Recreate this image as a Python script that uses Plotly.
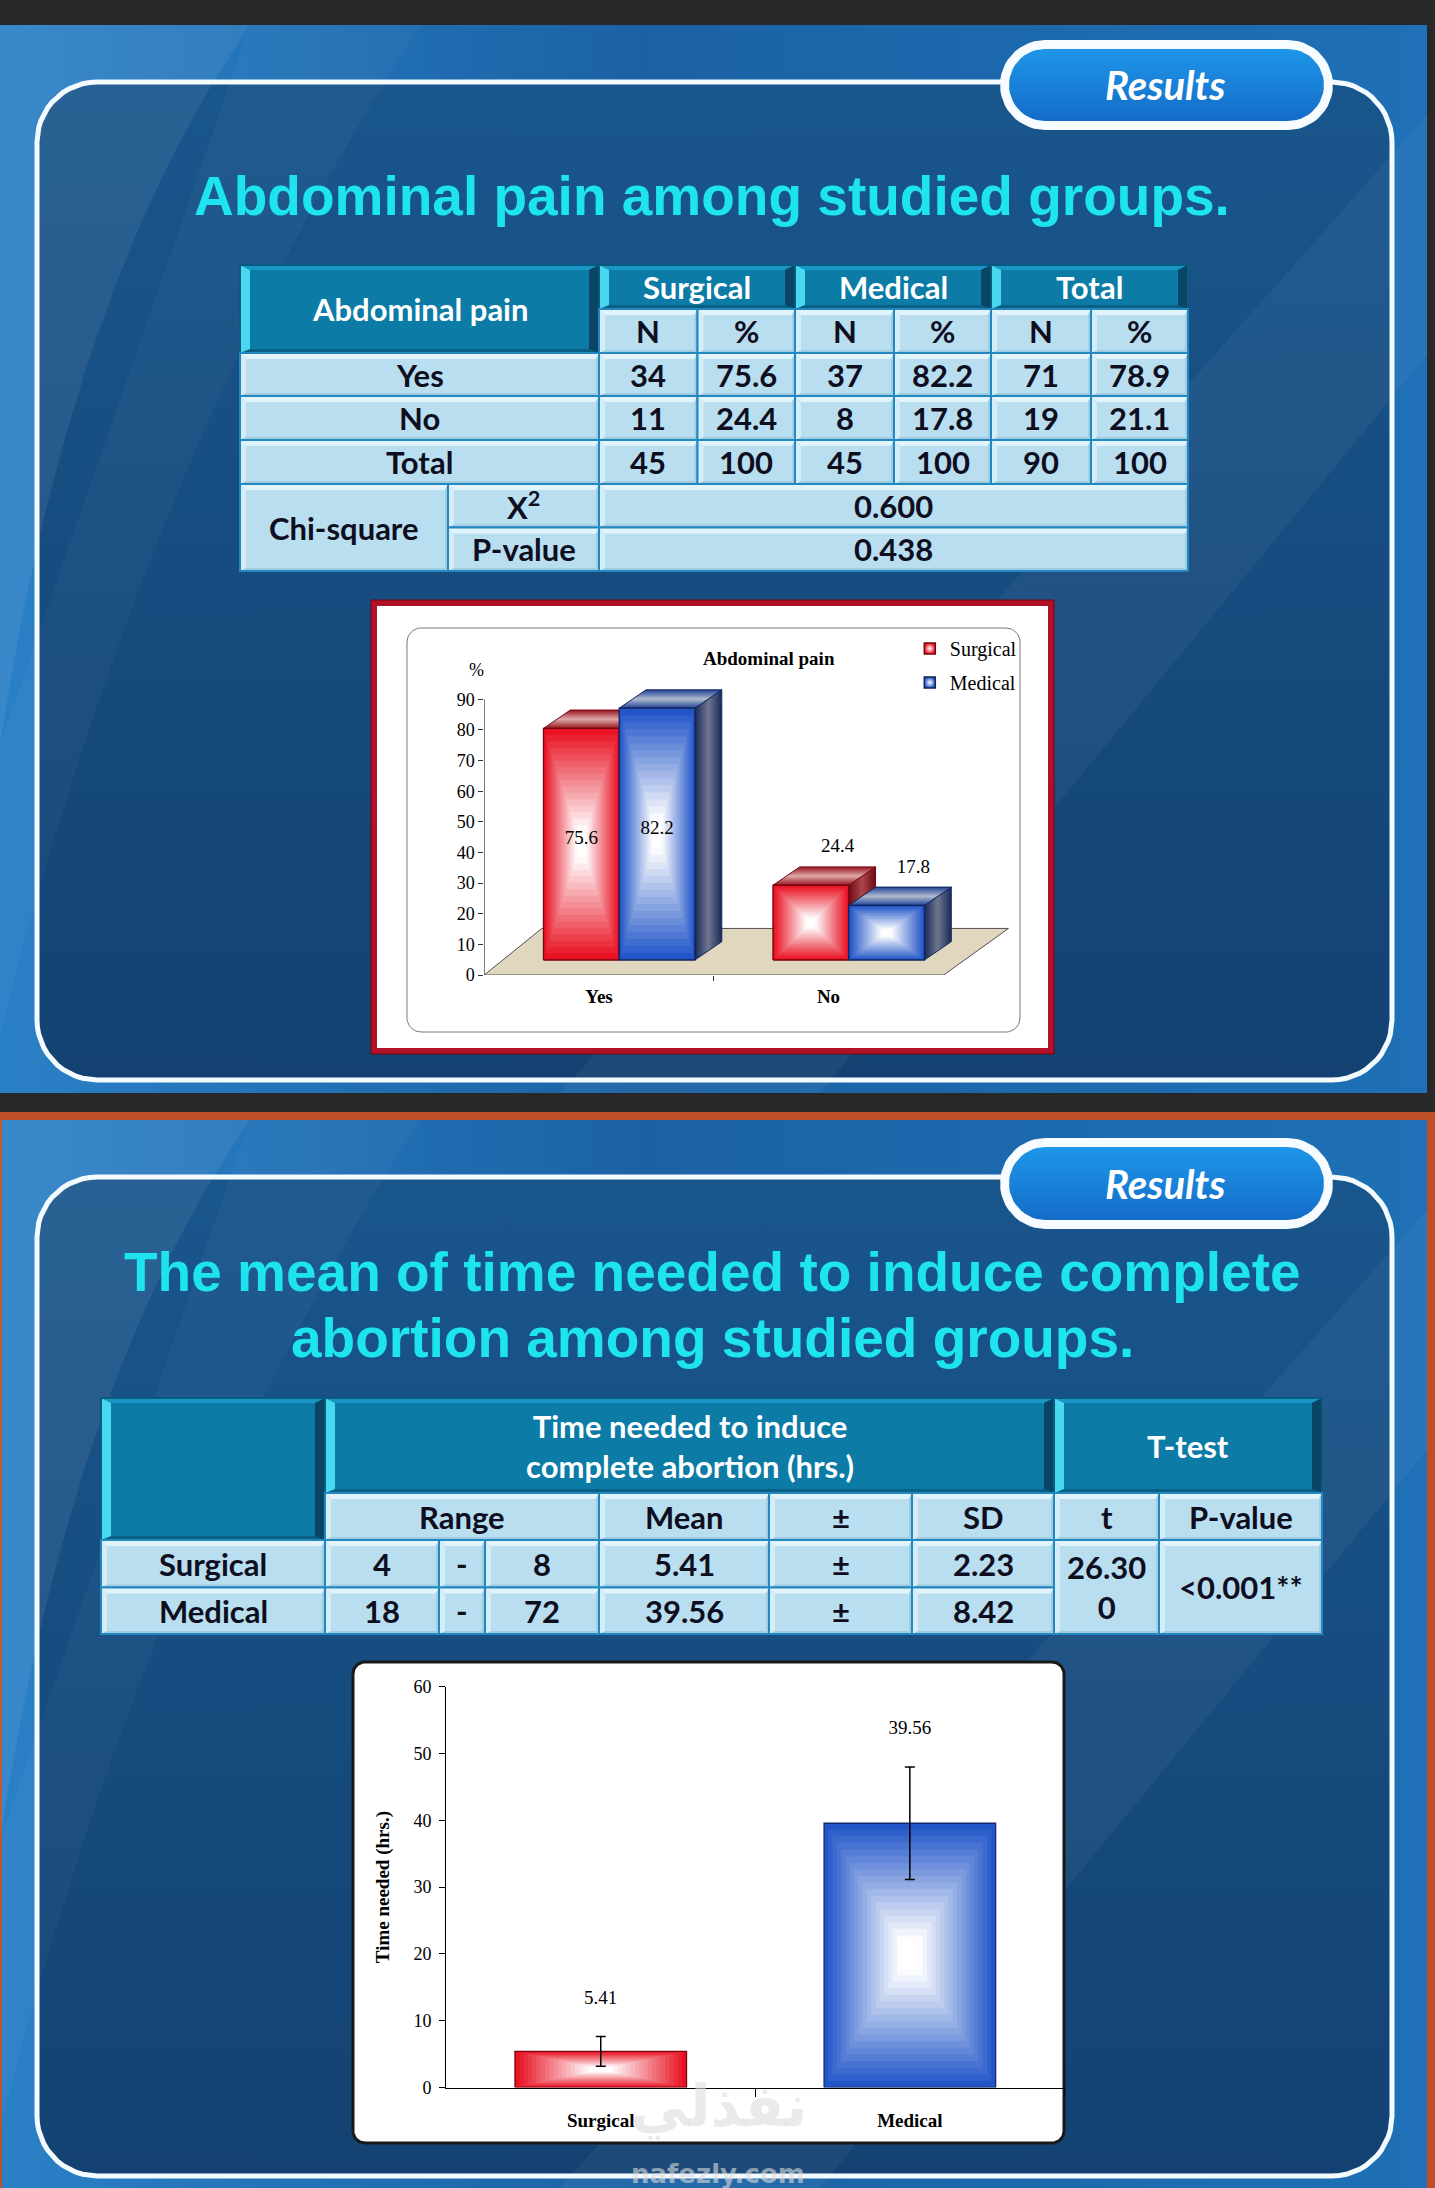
import numpy as np
import plotly.graph_objects as go

W, H = 1435, 2188

# ---- table 1: abdominal pain ----
GROUPS = ["Surgical", "Medical", "Total"]
PAIN_ROWS = ["Yes", "No", "Total"]
SURGICAL_N = [34, 11, 45]
SURGICAL_PCT = [75.6, 24.4, 100]
MEDICAL_N = [37, 8, 45]
MEDICAL_PCT = [82.2, 17.8, 100]
TOTAL_N = [71, 19, 90]
TOTAL_PCT = [78.9, 21.1, 100]
CHI_X2 = "0.600"
CHI_P = "0.438"

# ---- chart 1 ----
PAIN_CATS = ["Yes", "No"]
PAIN_TICKS = [0, 10, 20, 30, 40, 50, 60, 70, 80, 90]

# ---- table 2 / chart 2: time to complete abortion ----
TIME_GROUPS = ["Surgical", "Medical"]
RANGE_MIN = [4, 18]
RANGE_MAX = [8, 72]
MEAN_HRS = [5.41, 39.56]
SD_HRS = [2.23, 8.42]
T_VALUE = "26.300"
T_P = "<0.001**"
TIME_TICKS = [0, 10, 20, 30, 40, 50, 60]

TITLE_1 = ["Abdominal pain among studied groups."]
TITLE_2 = ["The mean of time needed to induce complete", "abortion among studied groups."]

SERIF = "Liberation Serif"
SANS = "Liberation Sans"
TFONT = "Lato"
RED = (232, 18, 34)
BLUE = (34, 86, 200)

fig = go.Figure()


def mix(c, t, alpha=None):
    r, g, b = (round(v + (255 - v) * t) for v in c)
    if alpha is None:
        return f"rgb({r},{g},{b})"
    return f"rgba({r},{g},{b},{alpha})"


def poly(xs, ys, xa="x", ya="y", fill=None, grad=None, line=None, width=0):
    fig.add_trace(go.Scatter(
        x=xs, y=ys, xaxis=xa, yaxis=ya, mode="lines",
        fill="toself" if (fill or grad) else "none",
        fillcolor=fill, fillgradient=grad,
        line=dict(color=line or "rgba(0,0,0,0)", width=width),
        hoverinfo="skip", showlegend=False))


def rect_pts(x0, y0, x1, y1):
    return [x0, x1, x1, x0, x0], [y0, y0, y1, y1, y0]


def rrect_pts(x0, y0, x1, y1, r, n=14):
    xs, ys = [], []
    for cx, cy, a0, a1 in [(x1 - r, y0 + r, -90, 0), (x1 - r, y1 - r, 0, 90),
                           (x0 + r, y1 - r, 90, 180), (x0 + r, y0 + r, 180, 270)]:
        for a in np.radians(np.linspace(a0, a1, n)):
            xs.append(cx + r * np.cos(a))
            ys.append(cy + r * np.sin(a))
    return xs + xs[:1], ys + ys[:1]


def qbez(p0, p1, p2, n=30):
    t = np.linspace(0, 1, n)[:, None]
    p = (1 - t) ** 2 * np.array(p0) + 2 * (1 - t) * t * np.array(p1) + t ** 2 * np.array(p2)
    return p[:, 0].tolist(), p[:, 1].tolist()


def vgrad(y0, y1, stops):
    return dict(type="vertical", start=y0, stop=y1, colorscale=stops)


def hgrad(x0, x1, stops):
    return dict(type="horizontal", start=x0, stop=x1, colorscale=stops)


def box_gradient(xa, ya, x0, x1, y0, y1, edge, outline, steps=18):
    # concentric rectangles give the "from centre" box gradient of the slide bars
    cx, cy = (x0 + x1) / 2, (y0 + y1) / 2
    hx, hy = (x1 - x0) / 2, (y1 - y0) / 2
    for i in range(steps):
        k = 1 - i / steps
        t = min(1.0, (i / (steps - 1)) * 1.1)
        xs, ys = rect_pts(cx - hx * k, cy - hy * k, cx + hx * k, cy + hy * k)
        poly(xs, ys, xa, ya, fill=mix(edge, t))
    xs, ys = rect_pts(x0, y0, x1, y1)
    poly(xs, ys, xa, ya, line=outline, width=1.3)


# ---------------- slide backgrounds ----------------
def slide(top, bottom, left, frame_top, frame_bottom, badge_top, badge_bottom):
    xs, ys = rect_pts(left, top, 1427, bottom)
    poly(xs, ys, grad=hgrad(left, 1427, [[0, "rgb(42,128,198)"], [0.45, "rgb(27,98,165)"],
                                         [1, "rgb(31,112,182)"]]))
    xs, ys = rrect_pts(37, frame_top, 1392, frame_bottom, 60)
    poly(xs, ys, grad=vgrad(frame_top, frame_bottom, [[0, "rgb(25,86,140)"], [1, "rgb(19,66,114)"]]))
    bx, by = qbez((250, top), (70, top + 260), (0, top + 720))
    poly([0] + bx + [0], [top] + by + [top], fill="rgba(255,255,255,0.07)")
    bx, by = qbez((420, top), (150, top + 420), (0, bottom - 60))
    poly([250] + bx + [0], [top] + by + [top + 720], fill="rgba(255,255,255,0.03)")
    poly([1427, 1427, 820, 560], [top + 90, top + 330, bottom, bottom], fill="rgba(255,255,255,0.045)")
    xs, ys = rrect_pts(37, frame_top, 1392, frame_bottom, 60)
    poly(xs, ys, line="rgb(244,251,255)", width=5)
    xs, ys = rrect_pts(1000, badge_top, 1333, badge_bottom, (badge_bottom - badge_top) / 2)
    poly(xs, ys, fill="rgb(246,252,255)")
    xs, ys = rrect_pts(1009, badge_top + 9, 1324, badge_bottom - 9, (badge_bottom - badge_top) / 2 - 9)
    poly(xs, ys, grad=vgrad(badge_top + 9, badge_bottom - 9,
                            [[0, "rgb(30,150,232)"], [1, "rgb(20,108,200)"]]))
    fig.add_annotation(x=1165, y=(badge_top + badge_bottom) / 2, xref="x", yref="y",
                       text="Results", showarrow=False,
                       font=dict(family=TFONT, size=40, color="white", weight="bold", style="italic"))


slide(25, 1093, 0, 82, 1080, 40, 130)
xs, ys = rect_pts(0, 1112, W, H)
poly(xs, ys, fill="rgb(190,78,40)")
slide(1120, H, 2, 1177, 2176, 1138, 1229)

for line, y in zip(TITLE_1, [196]):
    fig.add_annotation(x=712, y=y, xref="x", yref="y", text=line, showarrow=False,
                       font=dict(family=SANS, size=55, color="rgb(30,228,240)", weight="bold"))
for line, y in zip(TITLE_2, [1272, 1338]):
    fig.add_annotation(x=712, y=y, xref="x", yref="y", text=line, showarrow=False,
                       font=dict(family=SANS, size=55, color="rgb(30,228,240)", weight="bold"))

# ---------------- tables ----------------
shapes = []
STYLE = {
    "dark": dict(base="rgb(12,124,167)", top="rgb(24,150,196)", left="rgb(72,216,240)",
                 right="rgb(9,70,102)", bottom="rgb(10,96,132)", bt=5, bl=10, br=10, bb=4,
                 border="rgb(10,90,130)", text="white"),
    "light": dict(base="rgb(184,222,240)", top="rgb(226,244,251)", left="rgb(212,237,248)",
                  right="rgb(160,204,228)", bottom="rgb(158,202,226)", bt=6, bl=6, br=3, bb=3,
                  border="rgb(36,136,192)", text="rgb(14,14,30)"),
}


def cell(x0, x1, y0, y1, kind, text):
    s = STYLE[kind]
    common = dict(xref="x", yref="y", layer="above", line=dict(width=0))
    shapes.append(dict(type="rect", x0=x0, x1=x1, y0=y0, y1=y1, fillcolor=s["base"], **common))
    bt, bl, br, bb = s["bt"], s["bl"], s["br"], s["bb"]
    paths = [
        (f"M{x0},{y0} L{x1},{y0} L{x1 - br},{y0 + bt} L{x0 + bl},{y0 + bt} Z", s["top"]),
        (f"M{x0},{y1} L{x1},{y1} L{x1 - br},{y1 - bb} L{x0 + bl},{y1 - bb} Z", s["bottom"]),
        (f"M{x0},{y0} L{x0 + bl},{y0 + bt} L{x0 + bl},{y1 - bb} L{x0},{y1} Z", s["left"]),
        (f"M{x1},{y0} L{x1},{y1} L{x1 - br},{y1 - bb} L{x1 - br},{y0 + bt} Z", s["right"]),
    ]
    for p, c in paths:
        shapes.append(dict(type="path", path=p, fillcolor=c, **common))
    shapes.append(dict(type="rect", x0=x0, x1=x1, y0=y0, y1=y1, xref="x", yref="y", layer="above",
                       line=dict(color=s["border"], width=2), fillcolor="rgba(0,0,0,0)"))
    if text != "":
        fig.add_annotation(x=(x0 + x1) / 2, y=(y0 + y1) / 2, xref="x", yref="y", text=str(text),
                           showarrow=False,
                           font=dict(family=TFONT, size=31, color=s["text"], weight="bold"))


def fmt(v):
    return f"{v:g}"


T1_X = [240, 599, 697.5, 795, 894, 991, 1091, 1188]
T1_Y = [265, 309, 353, 396, 440, 484, 527.5, 571]
T1_SPLIT = 448

cell(T1_X[0], T1_X[1], T1_Y[0], T1_Y[2], "dark", "Abdominal pain")
for g, name in enumerate(GROUPS):
    cell(T1_X[1 + 2 * g], T1_X[3 + 2 * g], T1_Y[0], T1_Y[1], "dark", name)
for j in range(6):
    cell(T1_X[1 + j], T1_X[2 + j], T1_Y[1], T1_Y[2], "light", "N" if j % 2 == 0 else "%")
for r, row in enumerate(PAIN_ROWS):
    y0, y1 = T1_Y[2 + r], T1_Y[3 + r]
    cell(T1_X[0], T1_X[1], y0, y1, "light", row)
    vals = [SURGICAL_N[r], SURGICAL_PCT[r], MEDICAL_N[r], MEDICAL_PCT[r], TOTAL_N[r], TOTAL_PCT[r]]
    for j, v in enumerate(vals):
        cell(T1_X[1 + j], T1_X[2 + j], y0, y1, "light", fmt(v))
cell(T1_X[0], T1_SPLIT, T1_Y[5], T1_Y[7], "light", "Chi-square")
cell(T1_SPLIT, T1_X[1], T1_Y[5], T1_Y[6], "light", "X<sup>2</sup>")
cell(T1_SPLIT, T1_X[1], T1_Y[6], T1_Y[7], "light", "P-value")
cell(T1_X[1], T1_X[7], T1_Y[5], T1_Y[6], "light", CHI_X2)
cell(T1_X[1], T1_X[7], T1_Y[6], T1_Y[7], "light", CHI_P)

T2_X = [101, 325, 439, 485, 599, 769, 912, 1054, 1159, 1322]
T2_Y = [1398, 1493, 1540, 1587.5, 1634]

cell(T2_X[0], T2_X[1], T2_Y[0], T2_Y[2], "dark", "")
cell(T2_X[1], T2_X[7], T2_Y[0], T2_Y[1], "dark",
     "Time needed to induce<br>complete abortion (hrs.)")
cell(T2_X[7], T2_X[9], T2_Y[0], T2_Y[1], "dark", "T-test")
for (a, b), txt in zip([(1, 4), (4, 5), (5, 6), (6, 7), (7, 8), (8, 9)],
                       ["Range", "Mean", "±", "SD", "t", "P-value"]):
    cell(T2_X[a], T2_X[b], T2_Y[1], T2_Y[2], "light", txt)
for r, grp in enumerate(TIME_GROUPS):
    y0, y1 = T2_Y[2 + r], T2_Y[3 + r]
    vals = [grp, RANGE_MIN[r], "-", RANGE_MAX[r], f"{MEAN_HRS[r]:.2f}", "±", f"{SD_HRS[r]:.2f}"]
    for j, v in enumerate(vals):
        cell(T2_X[j], T2_X[j + 1], y0, y1, "light", v)
cell(T2_X[7], T2_X[8], T2_Y[2], T2_Y[4], "light", T_VALUE[:5] + "<br>" + T_VALUE[5:])
cell(T2_X[8], T2_X[9], T2_Y[2], T2_Y[4], "light", T_P)

# ---------------- chart frames (canvas) ----------------
xs, ys = rect_pts(371, 600, 1054, 1054)
poly(xs, ys, fill="rgb(178,16,38)", line="rgb(110,8,20)", width=1)
xs, ys = rect_pts(377, 606, 1048, 1048)
poly(xs, ys, fill="white")
xs, ys = rrect_pts(407, 628, 1020, 1032, 14)
poly(xs, ys, fill="white", line="rgb(120,120,120)", width=1)

xs, ys = rrect_pts(353, 1662, 1064, 2143, 12)
poly(xs, ys, fill="white", line="rgb(25,25,25)", width=3)

# ---------------- chart 1: 3-D style bars ----------------
C1_CAT0, C1_STEP = 599.0, 229.5
C1_BASE, C1_W, C1_SHIFT, C1_DX, C1_DY = 4.9, 0.33, -0.242, 0.117, 6.0

poly([-0.5, 1.502, 1.784, -0.249, -0.5], [0, 0, 15.2, 15.2, 0], "x2", "y2",
     fill="rgb(224,215,190)", line="rgb(80,80,80)", width=1)
poly([-0.5, -0.5], [0, 90], "x2", "y2", line="rgb(50,50,50)", width=1.2)

series = [
    ("Surgical", SURGICAL_PCT[:2], RED, "rgb(120,6,16)",
     ["rgb(150,20,30)", "rgb(222,168,168)"], ["rgb(110,10,20)", "rgb(170,70,75)"]),
    ("Medical", MEDICAL_PCT[:2], BLUE, "rgb(18,36,90)",
     ["rgb(30,66,150)", "rgb(176,186,206)"], ["rgb(24,42,92)", "rgb(112,118,140)"]),
]
for ci, cat in enumerate(PAIN_CATS):
    for si, (name, vals, edge, dark, topc, sidec) in enumerate(series):
        v = vals[ci]
        x0 = ci + C1_SHIFT + si * C1_W
        x1 = x0 + C1_W
        yb, yt = C1_BASE, C1_BASE + v
        poly([x1, x1 + C1_DX, x1 + C1_DX, x1, x1], [yb, yb + C1_DY, yt + C1_DY, yt, yb], "x2", "y2",
             grad=hgrad(x1, x1 + C1_DX, [[0, sidec[0]], [0.5, sidec[1]], [1, sidec[0]]]),
             line=dark, width=1)
        poly([x0, x1, x1 + C1_DX, x0 + C1_DX, x0], [yt, yt, yt + C1_DY, yt + C1_DY, yt], "x2", "y2",
             grad=vgrad(yt, yt + C1_DY, [[0, topc[0]], [0.5, topc[1]], [1, topc[0]]]),
             line=dark, width=1)
        box_gradient("x2", "y2", x0, x1, yb, yt, edge, dark)
        if v > 50:
            tx, ty = (x0 + x1) / 2, yb + v / 2 + 1.5
        else:
            tx, ty = (x0 + x1) / 2 + C1_DX, yt + C1_DY + 6.3
        fig.add_trace(go.Scatter(x=[tx], y=[ty], xaxis="x2", yaxis="y2", mode="text",
                                 text=[fmt(v)], textfont=dict(family=SERIF, size=19, color="black"),
                                 cliponaxis=False, hoverinfo="skip", showlegend=False))

for name, edge, dark in [("Surgical", RED, "rgb(120,6,16)"), ("Medical", BLUE, "rgb(18,36,90)")]:
    fig.add_trace(go.Scatter(
        x=[None], y=[None], xaxis="x2", yaxis="y2", mode="markers", name=name,
        legendgroup=name,
        marker=dict(symbol="square", size=11, color=mix(edge, 0),
                    gradient=dict(type="radial", color="white"), line=dict(color=dark, width=1.5))))

fig.add_annotation(x=476, y=670, xref="x", yref="y", text="%", showarrow=False,
                   font=dict(family=SERIF, size=18, color="black"))
fig.add_annotation(x=769, y=658, xref="x", yref="y", text="Abdominal pain", showarrow=False,
                   font=dict(family=SERIF, size=19, color="black", weight="bold"))

# ---------------- chart 2: mean time with SD ----------------
C2_W = 0.555
for gi, (grp, edge, dark) in enumerate(zip(TIME_GROUPS, [RED, BLUE],
                                           ["rgb(120,6,16)", "rgb(18,40,110)"])):
    box_gradient("x3", "y3", gi - C2_W / 2, gi + C2_W / 2, 0, MEAN_HRS[gi], edge, dark, steps=20)

fig.add_trace(go.Scatter(
    x=[0, 1], y=MEAN_HRS, xaxis="x3", yaxis="y3", mode="markers",
    marker=dict(size=1, color="rgba(0,0,0,0)"),
    error_y=dict(type="data", array=SD_HRS, color="black", thickness=1.5, width=5),
    hoverinfo="skip", showlegend=False))
fig.add_trace(go.Scatter(
    x=[0, 1], y=[m + s + 5.6 for m, s in zip(MEAN_HRS, SD_HRS)], xaxis="x3", yaxis="y3",
    mode="text", text=[f"{m:.2f}" for m in MEAN_HRS],
    textfont=dict(family=SERIF, size=19, color="black"),
    cliponaxis=False, hoverinfo="skip", showlegend=False))

# watermark
fig.add_annotation(x=718, y=2106, xref="x", yref="y", text="نفذلي", showarrow=False,
                   font=dict(family="DejaVu Sans", size=58, color="rgba(220,220,220,0.6)",
                             weight="bold"))
fig.add_annotation(x=718, y=2174, xref="x", yref="y", text="nafezly.com", showarrow=False,
                   font=dict(family="DejaVu Sans", size=26, color="rgba(220,220,220,0.6)",
                             weight="bold"))


# ---------------- layout ----------------
def dx(p):
    return p / W


def dy(p):
    return 1 - p / H


fig.update_layout(
    width=W, height=H, margin=dict(l=0, r=0, t=0, b=0),
    template="none", paper_bgcolor="rgb(40,40,40)", plot_bgcolor="rgba(0,0,0,0)",
    shapes=shapes,
    showlegend=True,
    legend=dict(x=0.634, y=0.7125, xanchor="left", yanchor="top", bgcolor="rgba(0,0,0,0)",
                font=dict(family=SERIF, size=20, color="black"), tracegroupgap=5),
    xaxis=dict(domain=[0, 1], range=[0, W], visible=False, fixedrange=True),
    yaxis=dict(domain=[0, 1], range=[H, 0], visible=False, fixedrange=True),
    xaxis2=dict(domain=[dx(C1_CAT0 - 0.5 * C1_STEP), dx(C1_CAT0 + 1.8 * C1_STEP)],
                range=[-0.5, 1.8], anchor="y2", showgrid=False, zeroline=False, showline=False,
                tickvals=[0, 1], ticktext=PAIN_CATS, ticks="", ticklabelstandoff=8,
                tickfont=dict(family=SERIF, size=19, color="black", weight="bold"),
                minor=dict(tickvals=[0.5], ticks="outside", ticklen=5, tickcolor="rgb(50,50,50)"),
                fixedrange=True),
    yaxis2=dict(domain=[dy(975), dy(975 - 100 * 3.063)], range=[0, 100], anchor="x2",
                showgrid=False, zeroline=False, showline=False, tickvals=PAIN_TICKS,
                ticks="outside", ticklen=5, tickcolor="rgb(50,50,50)",
                tickfont=dict(family=SERIF, size=18, color="black"), fixedrange=True),
    xaxis3=dict(domain=[dx(446.2), dx(1064.4)], range=[-0.5, 1.5], anchor="y3",
                showgrid=False, zeroline=False, showline=True, linecolor="black", linewidth=1.2,
                tickvals=[0, 1], ticktext=TIME_GROUPS, ticks="", ticklabelstandoff=16,
                tickfont=dict(family=SERIF, size=19, color="black", weight="bold"),
                minor=dict(tickvals=[0.5, 1.5], ticks="outside", ticklen=8, tickcolor="black"),
                fixedrange=True),
    yaxis3=dict(domain=[dy(2087.5), dy(1686.7)], range=[0, 60], anchor="x3",
                showgrid=False, zeroline=False, showline=True, linecolor="black", linewidth=1.2,
                tickvals=TIME_TICKS, ticks="outside", ticklen=6, tickcolor="black",
                ticklabelstandoff=4, tickfont=dict(family=SERIF, size=18, color="black"),
                title=dict(text="Time needed (hrs.)", standoff=18,
                           font=dict(family=SERIF, size=19, color="black", weight="bold")),
                fixedrange=True),
)

fig.write_html("out.html", config={"displayModeBar": False},
               post_script="document.body.style.margin='0';"
                           "document.body.style.overflow='hidden';")
